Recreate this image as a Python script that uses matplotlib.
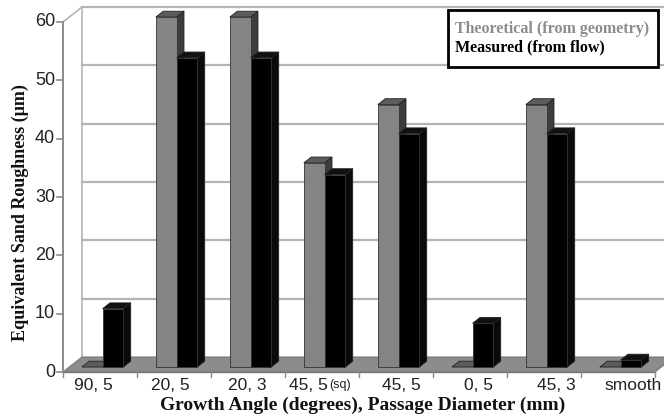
import matplotlib
matplotlib.use("Agg")
import matplotlib.pyplot as plt
from matplotlib.patches import Polygon, Rectangle
import numpy as np

# Data
categories = ["90, 5", "20, 5", "20, 3", "45, 5", "45, 5", "0, 5", "45, 3", "smooth"]
category_notes = ["", "", "", "(sq)", "", "", "", ""]
theoretical = [0, 60, 60, 35, 45, 0, 45, 0]
measured = [10, 53, 53, 33, 40, 7.5, 40, 1.2]
y_ticks = [0, 10, 20, 30, 40, 50, 60]

W, H = 664, 419
fig = plt.figure(figsize=(W / 100, H / 100), dpi=100)
fig.patch.set_facecolor("white")

# front plane of the plot: pixel box
x0_px, x1_px, y_top_px, y_bot_px = 63, 655, 22, 372
ax = fig.add_axes([x0_px / W, 1 - y_bot_px / H, (x1_px - x0_px) / W, (y_bot_px - y_top_px) / H])
n = len(categories)
ax.set_xlim(0, n)
ax.set_ylim(0, 60)
ax.axis("off")

# depth vector (front plane -> back wall) in data units
px_x = (x1_px - x0_px) / n
px_y = (y_bot_px - y_top_px) / 60
D = np.array([19 / px_x, 15 / px_y])

grid_c = "#b4b4b4"
# back wall gridlines
for yv in y_ticks[1:]:
    ax.plot([D[0], n + 1.0], [yv + D[1], yv + D[1]], color=grid_c, lw=1.6, clip_on=False, zorder=1)
# back wall left edge and top-left diagonal
ax.plot([D[0], D[0]], [D[1], 60 + D[1]], color=grid_c, lw=1.2, clip_on=False, zorder=1)
ax.plot([0, D[0]], [60, 60 + D[1]], color=grid_c, lw=1.2, clip_on=False, zorder=1)

# floor
floor = Polygon([(0, 0), (n, 0), (n + D[0], D[1]), (D[0], D[1])], closed=True,
                facecolor="#8c8c8c", edgecolor="#777777", lw=0.8, clip_on=False, zorder=2)
ax.add_patch(floor)

# front axis line and ticks
ax.plot([0, 0], [0, 60], color="#8a8a8a", lw=1.4, clip_on=False, zorder=3)
tick_len_x = 6 / px_x
tick_len_y = 6 / px_y
for yv in y_ticks:
    ax.plot([-tick_len_x, 0], [yv, yv], color="#8a8a8a", lw=1.2, clip_on=False, zorder=3)
    ax.text(-tick_len_x - 2 / px_x, yv, str(yv), ha="right", va="center",
            fontsize=13, family="Liberation Sans", color="#222222")
ax.plot([0, n], [0, 0], color="#777777", lw=1.0, clip_on=False, zorder=3)
for k in range(n + 1):
    ax.plot([k, k], [0, -tick_len_y * 0.8], color="#8a8a8a", lw=1.0, clip_on=False, zorder=3)


def bar3d(xl, width, val, front, side, top, z):
    d0 = D * 0.33
    d1 = D * 0.72
    xr = xl + width
    side_poly = [(xr + d0[0], d0[1]), (xr + d0[0], val + d0[1]),
                 (xr + d1[0], val + d1[1]), (xr + d1[0], d1[1])]
    top_poly = [(xl + d0[0], val + d0[1]), (xr + d0[0], val + d0[1]),
                (xr + d1[0], val + d1[1]), (xl + d1[0], val + d1[1])]
    ax.add_patch(Polygon(side_poly, closed=True, facecolor=side, edgecolor="#222222",
                         lw=0.6, zorder=z, clip_on=False))
    ax.add_patch(Polygon(top_poly, closed=True, facecolor=top, edgecolor="#222222",
                         lw=0.6, zorder=z, clip_on=False))
    if val > 0:
        ax.add_patch(Rectangle((xl + d0[0], d0[1]), width, val, facecolor=front,
                               edgecolor="#333333", lw=0.6, zorder=z, clip_on=False))


bw = 0.28
for i in range(n):
    c = i + 0.45
    bar3d(c - bw, bw, theoretical[i], "#848484", "#3c3c3c", "#5c5c5c", 4 + 2 * i)
    bar3d(c, bw, measured[i], "#000000", "#0a0a0a", "#111111", 5 + 2 * i)

# category labels
label_y = -tick_len_y * 0.8 - 1.5 / px_y
for i, lab in enumerate(categories):
    xp = 0.405 + 1.043 * i
    if category_notes[i]:
        t = ax.text(xp - 0.22, label_y, lab, ha="center", va="top",
                    fontsize=12.5, family="Liberation Sans", color="#222222")
        ax.annotate(category_notes[i], xy=(1, 0), xycoords=t, xytext=(1, 1.5),
                    textcoords="offset points", ha="left", va="bottom",
                    fontsize=9, family="Liberation Sans", color="#222222")
    else:
        ax.text(xp, label_y, lab, ha="center", va="top",
                fontsize=12.5, family="Liberation Sans", color="#222222")

# axis titles
fig.text(363 / W, 1 - 405 / H, "Growth Angle (degrees), Passage Diameter (mm)", ha="center", va="center",
         fontsize=14, fontweight="bold", family="Liberation Serif", color="#111111")
fig.text(20 / W, 1 - 213 / H, "Equivalent Sand Roughness (\u03bcm)", ha="center", va="center",
         rotation=90, fontsize=13, fontweight="bold", family="Liberation Serif", color="#111111")

# legend box
lx0, ly0, lx1, ly1 = 448, 10, 658, 67
fig.patches.append(Rectangle((lx0 / W, 1 - ly1 / H), (lx1 - lx0) / W, (ly1 - ly0) / H,
                             transform=fig.transFigure, facecolor="white", edgecolor="black",
                             lw=2.0, zorder=20))
fig.text(455 / W, 1 - 29 / H, "Theoretical (from geometry)", ha="left", va="center",
         fontsize=11.5, fontweight="bold", family="Liberation Serif", color="#8c8c8c", zorder=21)
fig.text(455 / W, 1 - 47 / H, "Measured (from flow)", ha="left", va="center",
         fontsize=11.5, fontweight="bold", family="Liberation Serif", color="#000000", zorder=21)

fig.savefig("out.png", dpi=100, facecolor="white")
